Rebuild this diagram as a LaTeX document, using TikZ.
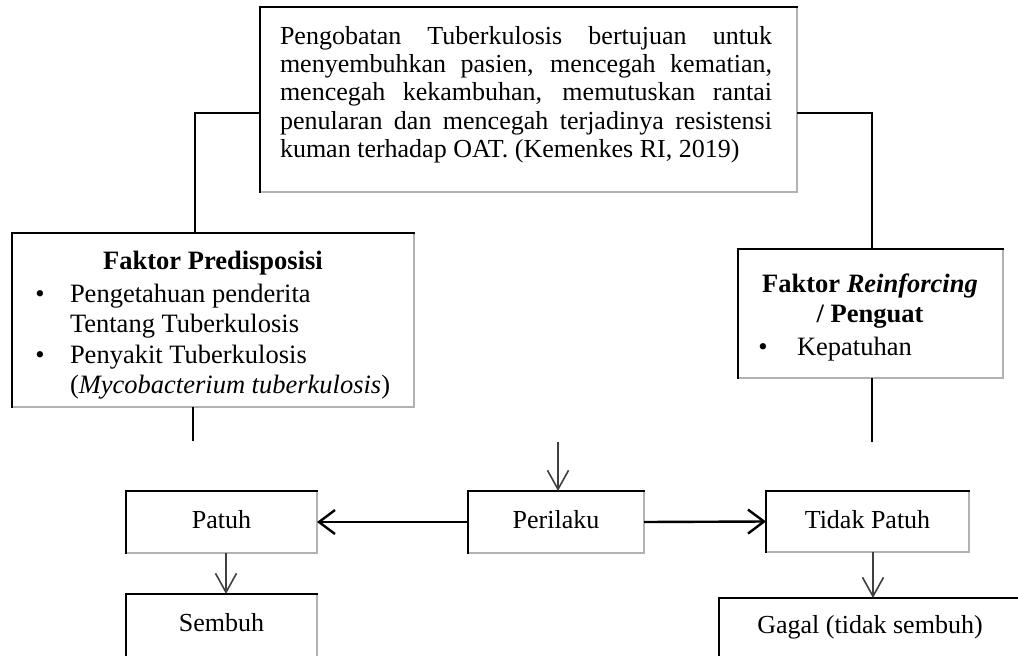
\documentclass[tikz,border=0pt]{standalone}
\usepackage{fontspec}
\setmainfont{Liberation Serif}
\usetikzlibrary{arrows.meta,calc}
\begin{document}
\begin{tikzpicture}[x=1pt,y=-1pt,
  box/.style={inner sep=0pt, outer sep=0pt, anchor=north west, draw=none,
    font=\fontsize{26}{30}\selectfont, text height=18pt, text depth=5pt},
  dark/.style={draw=black, line width=2pt, line cap=rect},
  light/.style={draw=gray!60, line width=1.6pt},
  conn/.style={draw=black, line width=1.8pt},
  harr/.style={draw=black, line width=2.4pt, -{Straight Barb[length=16pt,width=24pt]}},
  varr/.style={draw=black!75, line width=1.6pt, -{Straight Barb[length=19pt,width=21pt]}},
  tt/.style={inner sep=0pt, outer sep=0pt, font=\fontsize{26}{28.5}\selectfont, anchor=base west},
  tb/.style={inner sep=0pt, outer sep=0pt, font=\fontsize{26.5}{30}\selectfont},
]
\useasboundingbox (0,0) rectangle (1018,656);
\fill[white] (0,0) rectangle (1018,656);

% boxes
\node[box, minimum width=537pt, minimum height=185pt] (top) at (260,7) {};
\node[box, minimum width=402pt, minimum height=174pt] (pred) at (12,233) {};
\node[box, minimum width=265pt, minimum height=129pt] (reinf) at (738,249) {};
\node[box, minimum width=191pt, minimum height=62pt] (patuh) at (126,491) {Patuh};
\node[box, minimum width=176pt, minimum height=62pt] (perilaku) at (468,491) {Perilaku};
\node[box, minimum width=203pt, minimum height=61pt] (tidak) at (766,491) {Tidak Patuh};
\node[box, minimum width=191pt, minimum height=62pt] (sembuh) at (126,594) {Sembuh};
\node[box, minimum width=302pt, minimum height=58pt] (gagal) at (719,598) {Gagal (tidak sembuh)};

\foreach \n in {top,pred,reinf,patuh,perilaku,tidak}{
  \draw[light] (\n.north east) -- (\n.south east) -- (\n.south west);
  \draw[dark] (\n.south west) -- (\n.north west) -- (\n.north east);
}
\draw[light] (sembuh.north east) -- (sembuh.south east);
\draw[dark] (sembuh.south west) -- (sembuh.north west) -- (sembuh.north east);
\draw[dark] (gagal.south west) -- (gagal.north west) -- (gagal.north east);

% top text
\node[tt] (l1) at (280,44) {\makebox[492pt][s]{Pengobatan Tuberkulosis bertujuan untuk}};
\node[tt] (l2) at (280,72) {\makebox[492pt][s]{menyembuhkan pasien, mencegah kematian,}};
\node[tt] (l3) at (280,100) {\makebox[492pt][s]{mencegah kekambuhan, memutuskan rantai}};
\node[tt] (l4) at (280,129) {\makebox[492pt][s]{penularan dan mencegah terjadinya resistensi}};
\node[tt] (l5) at (280,157) {kuman terhadap OAT. (Kemenkes RI, 2019)};

% predisposisi text
\node[tb, anchor=base] (pt) at (213,269) {\bfseries Faktor Predisposisi};
\node[tb, anchor=base] (pb1) at (40,302) {\textbullet};
\node[tb, anchor=base west] (p1) at (70,302) {Pengetahuan penderita};
\node[tb, anchor=base west] (p2) at (70,332) {Tentang Tuberkulosis};
\node[tb, anchor=base] (pb2) at (40,363) {\textbullet};
\node[tb, anchor=base west] (p3) at (70,363) {Penyakit Tuberkulosis};
\node[tb, anchor=base west] (p4) at (70,393) {(\textit{Mycobacterium tuberkulosis})};

% reinforcing text
\node[tb, anchor=base] (rt1) at (870,292) {\bfseries Faktor \textit{Reinforcing}};
\node[tb, anchor=base] (rt2) at (870,322) {\bfseries / Penguat};
\node[tb, anchor=base] (rb1) at (763,355) {\textbullet};
\node[tb, anchor=base west] (r1) at (797,355) {Kepatuhan};

% connectors
\coordinate (jl) at (195,113);
\coordinate (jr) at (872,113);
\draw[conn] (top.west |- jl) -- (jl) -- (jl |- pred.north);
\draw[conn] (top.east |- jr) -- (jr) -- (jr |- reinf.north);
\coordinate (el) at (193,441);
\draw[conn] (el |- pred.south) -- (el);
\coordinate (er) at (872,442);
\draw[conn] (er |- reinf.south) -- (er);
\coordinate (em) at (558,442);
\draw[varr] (em) -- (em |- perilaku.north);
\draw[harr] (perilaku.west) -- (patuh.east);
\draw[harr] (perilaku.east) -- (tidak.west);
\coordinate (ps) at (226,553);
\draw[varr] (ps |- patuh.south) -- (ps |- sembuh.north);
\coordinate (ts) at (873,552);
\draw[varr] (ts |- tidak.south) -- (ts |- gagal.north);
\end{tikzpicture}
\end{document}
